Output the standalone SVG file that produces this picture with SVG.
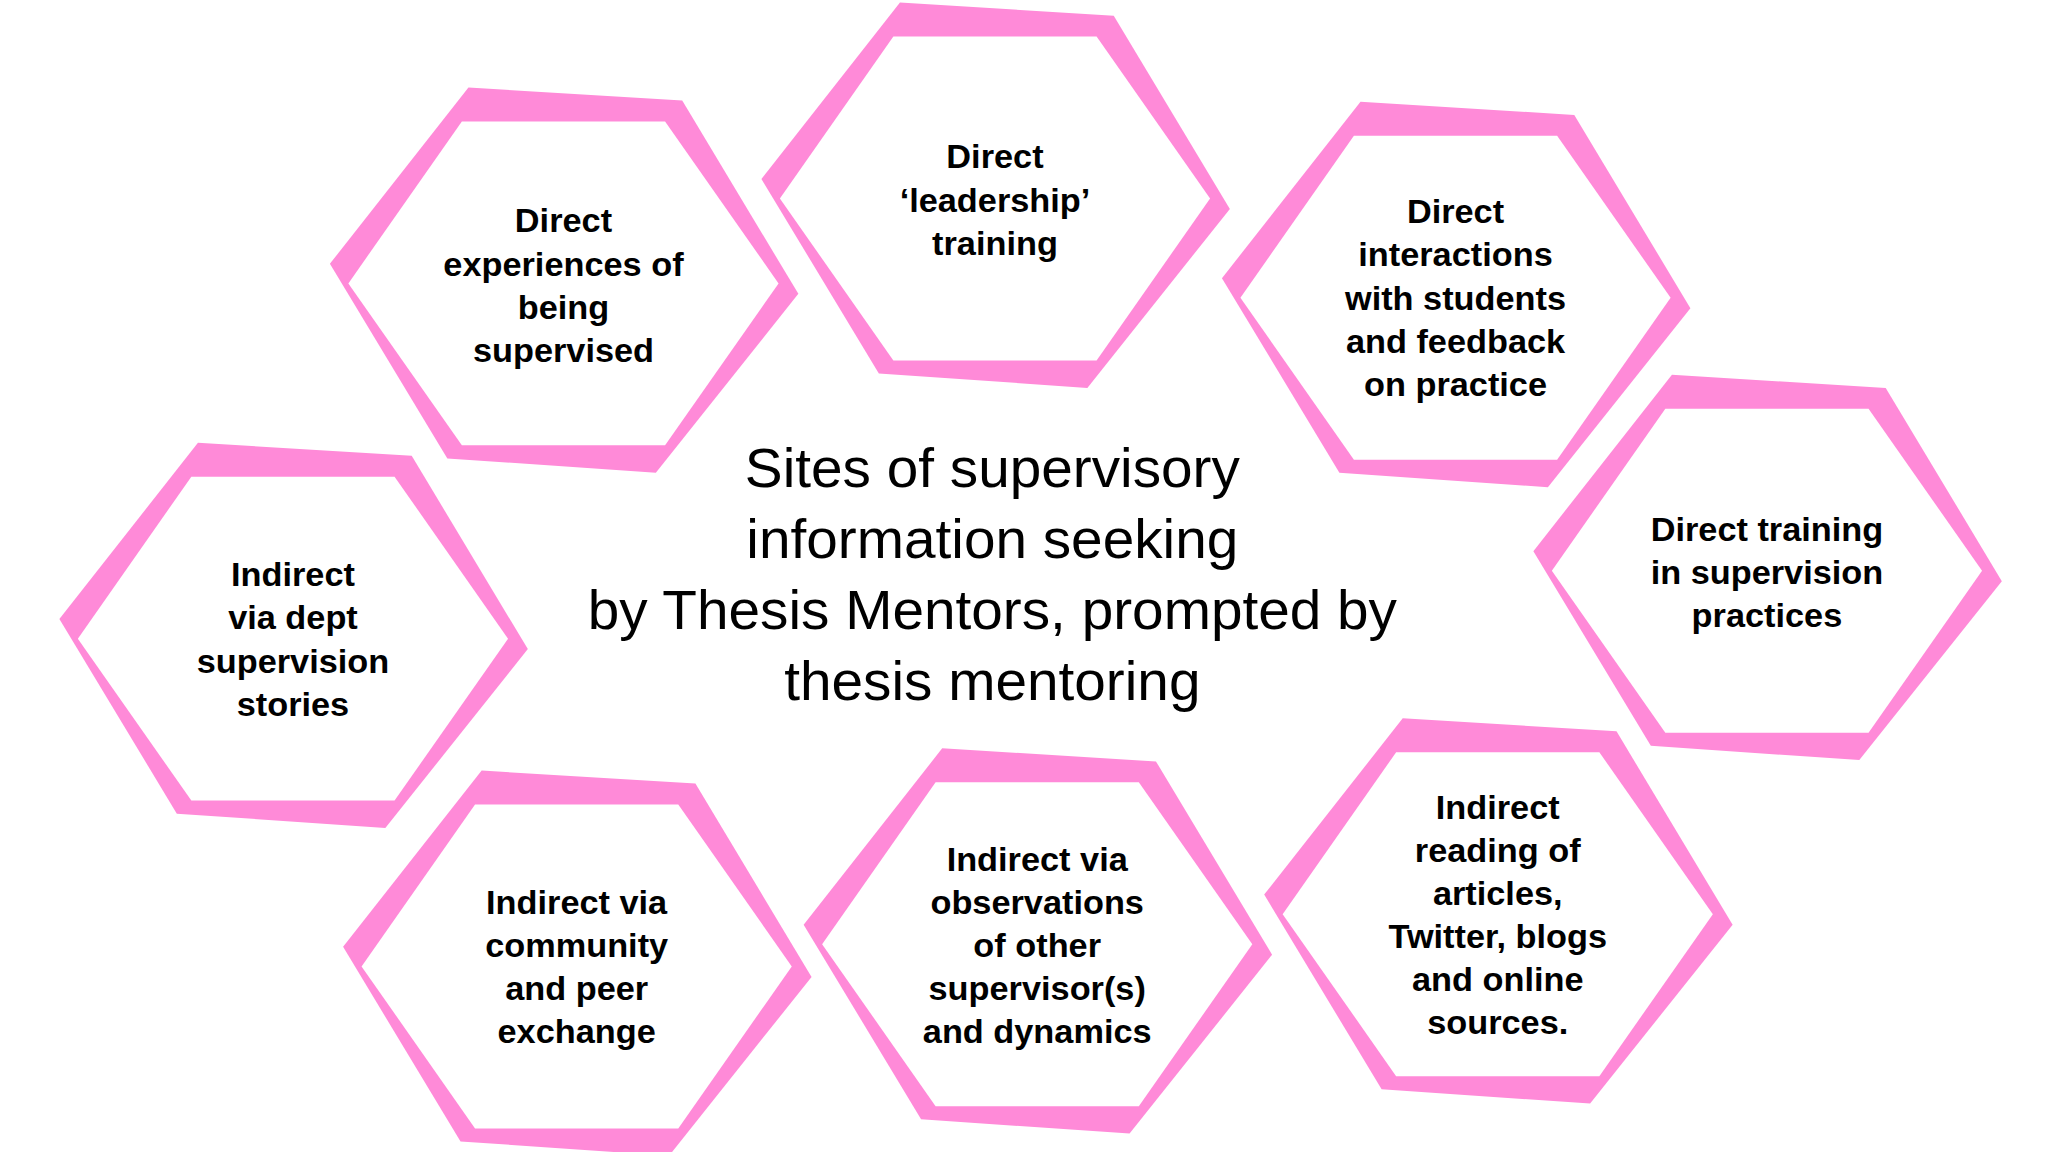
<svg xmlns="http://www.w3.org/2000/svg" xmlns:xlink="http://www.w3.org/1999/xlink" width="2048" height="1152" viewBox="0 0 2048 1152">
<style>
.o{fill:#FF8AD8}
.i{fill:#ffffff}
.t{font-family:"Liberation Sans",Arial,sans-serif;font-weight:bold;font-size:26px;fill:#000;text-anchor:middle}
.c{font-family:"Liberation Sans",Arial,sans-serif;font-size:43px;fill:#000;text-anchor:middle}
</style>
<defs>
<g id="hex">
<polygon class="o" points="-72,-150 90,-140 178,8 70,145 -88,134 -177,-15"/>
<polygon class="i" points="-77,-124 77,-124 163,0 77,124 -77,124 -163,0"/>
</g>
</defs>
<rect width="2048" height="1152" fill="#fff"/>
<g transform="scale(1.3196,1.306)">
<g id="connectors"/>
<g id="n1"><use xlink:href="#hex" x="427" y="217"/><text class="t"><tspan x="427" y="178">Direct</tspan><tspan x="427" y="211">experiences of</tspan><tspan x="427" y="244">being</tspan><tspan x="427" y="277">supervised</tspan></text></g>
<g id="n2"><use xlink:href="#hex" x="754" y="152"/><text class="t"><tspan x="754" y="129">Direct</tspan><tspan x="754" y="162">‘leadership’</tspan><tspan x="754" y="195">training</tspan></text></g>
<g id="n3"><use xlink:href="#hex" x="1103" y="228"/><text class="t"><tspan x="1103" y="171">Direct</tspan><tspan x="1103" y="204">interactions</tspan><tspan x="1103" y="237">with students</tspan><tspan x="1103" y="270">and feedback</tspan><tspan x="1103" y="303">on practice</tspan></text></g>
<g id="n4"><use xlink:href="#hex" x="1339" y="437"/><text class="t"><tspan x="1339" y="414">Direct training</tspan><tspan x="1339" y="447">in supervision</tspan><tspan x="1339" y="480">practices</tspan></text></g>
<g id="n5"><use xlink:href="#hex" x="222" y="489"/><text class="t"><tspan x="222" y="449">Indirect</tspan><tspan x="222" y="482">via dept</tspan><tspan x="222" y="515">supervision</tspan><tspan x="222" y="548">stories</tspan></text></g>
<g id="n6"><use xlink:href="#hex" x="437" y="740"/><text class="t"><tspan x="437" y="700">Indirect via</tspan><tspan x="437" y="733">community</tspan><tspan x="437" y="766">and peer</tspan><tspan x="437" y="799">exchange</tspan></text></g>
<g id="n7"><use xlink:href="#hex" x="786" y="723"/><text class="t"><tspan x="786" y="667">Indirect via</tspan><tspan x="786" y="700">observations</tspan><tspan x="786" y="733">of other</tspan><tspan x="786" y="766">supervisor(s)</tspan><tspan x="786" y="799">and dynamics</tspan></text></g>
<g id="n8"><use xlink:href="#hex" x="1135" y="700"/><text class="t"><tspan x="1135" y="627">Indirect</tspan><tspan x="1135" y="660">reading of</tspan><tspan x="1135" y="693">articles,</tspan><tspan x="1135" y="726">Twitter, blogs</tspan><tspan x="1135" y="759">and online</tspan><tspan x="1135" y="792">sources.</tspan></text></g>
<g id="title"><text class="c"><tspan x="752" y="373">Sites of supervisory</tspan><tspan x="752" y="427">information seeking</tspan><tspan x="752" y="482">by Thesis Mentors, prompted by</tspan><tspan x="752" y="536">thesis mentoring</tspan></text></g>
</g>
</svg>
